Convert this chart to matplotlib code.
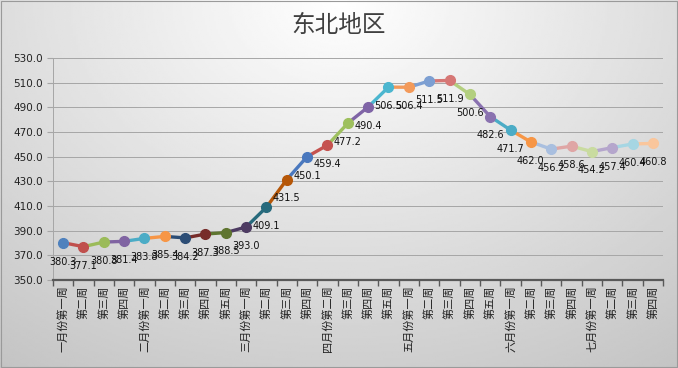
import numpy as np
import matplotlib
matplotlib.use("Agg")
import matplotlib.pyplot as plt
from matplotlib.patches import Rectangle

plt.rcParams['font.family'] = ['DejaVu Sans', 'Noto Sans CJK SC']

# weeks (x categories)
weeks = ['一月份第一周', '第二周', '第三周', '第四周',
         '二月份第一周', '第二周', '第三周', '第四周', '第五周',
         '三月份第一周', '第二周', '第三周', '第四周',
         '四月份第二周', '第三周', '第四周', '第五周',
         '五月份第一周', '第二周', '第三周', '第四周', '第五周',
         '六月份第一周', '第二周', '第三周', '第四周',
         '七月份第一周', '第二周', '第三周', '第四周']

values = [380.3, 377.1, 380.8, 381.4, 383.8, 385.4, 384.2, 387.3, 388.5, 393.0,
          409.1, 431.5, 450.1, 459.4, 477.2, 490.4, 506.5, 506.4, 511.5, 511.9,
          500.6, 482.6, 471.7, 462.0, 456.2, 458.6, 454.2, 457.4, 460.4, 460.8]

# excel "vary colors by point" palette
point_colors = ['#4F81BD', '#C0504D', '#9BBB59', '#8064A2', '#4BACC6', '#F79646',
                '#2C4D75', '#772C2A', '#5F7530', '#4D3B62', '#276A7C', '#B65708',
                '#4A78BE', '#C5524F', '#9EC05D', '#7F64A6', '#4BB6CF', '#F39A5A',
                '#7D9FD2', '#D67775', '#B3CF7F', '#8A72B0', '#4BACC6', '#F79646',
                '#A9BFDF', '#DFA6A5', '#C9DBA0', '#B5A6CC', '#A6D6E3', '#FAC69C']

yticks = np.arange(350, 531, 20)

fig = plt.figure(figsize=(6.78, 3.68), dpi=100)

# gray gradient background
bg = fig.add_axes([0, 0, 1, 1], zorder=-10)
gx, gy = np.meshgrid(np.linspace(0, 1, 300), np.linspace(0, 1, 200))
d = np.sqrt(((gx - 0.5) / 0.75) ** 2 + (gy / 1.05) ** 2)
shade = 1.0 - 0.2 * np.clip(d, 0, 1.2)
bg.imshow(shade, cmap='gray', vmin=0, vmax=1, aspect='auto', extent=[0, 1, 1, 0])
bg.set_xlim(0, 1)
bg.set_ylim(1, 0)
bg.axis('off')
fig.patches.append(Rectangle((0.001, 0.002), 0.997, 0.995, transform=fig.transFigure,
                             fill=False, edgecolor='#9A9A9A', lw=0.8))

ax = fig.add_axes([0.078, 0.239, 0.900, 0.603])
ax.set_facecolor('none')

x = np.arange(len(values))
for i in range(1, len(values)):
    ax.plot(x[i - 1:i + 1], values[i - 1:i + 1], color=point_colors[i], lw=2.4,
            solid_capstyle='round', zorder=3)
for i in range(len(values)):
    ax.plot(x[i], values[i], 'o', color=point_colors[i], markersize=7, zorder=4)
    ax.annotate(f'{values[i]:.1f}', (x[i], values[i]), xytext=(0, -10),
                textcoords='offset points', ha='center', va='top',
                fontsize=7, color='#111111', zorder=5)

ax.set_xlim(-0.5, len(values) - 0.5)
ax.set_ylim(350, 530)
ax.set_yticks(yticks)
ax.set_yticklabels([f'{v:.1f}' for v in yticks], fontsize=7.5, color='#222222')
ax.yaxis.grid(True, color='#A6A6A6', lw=0.7)
ax.set_axisbelow(True)

ax.set_xticks(np.arange(-0.5, len(values), 1))
ax.set_xticklabels([])
ax.set_xticks(x, minor=True)
ax.set_xticklabels(weeks, minor=True, rotation=90, fontsize=8, va='top',
                   family=['Noto Sans CJK SC'], color='#222222')
ax.tick_params(axis='x', which='major', length=4, color='#595959', width=1)
ax.tick_params(axis='x', which='minor', length=0, pad=4)
ax.tick_params(axis='y', length=4, color='#A6A6A6', pad=3)

for s in ['top', 'right']:
    ax.spines[s].set_visible(False)
ax.spines['bottom'].set_color('#595959')
ax.spines['bottom'].set_linewidth(1.6)
ax.spines['left'].set_color('#A6A6A6')
ax.spines['left'].set_linewidth(0.7)

fig.text(0.5, 0.932, '东北地区', ha='center', va='center', fontsize=17,
         color='#404040', family=['Noto Sans CJK SC'])

fig.savefig('out.png', dpi=100)
